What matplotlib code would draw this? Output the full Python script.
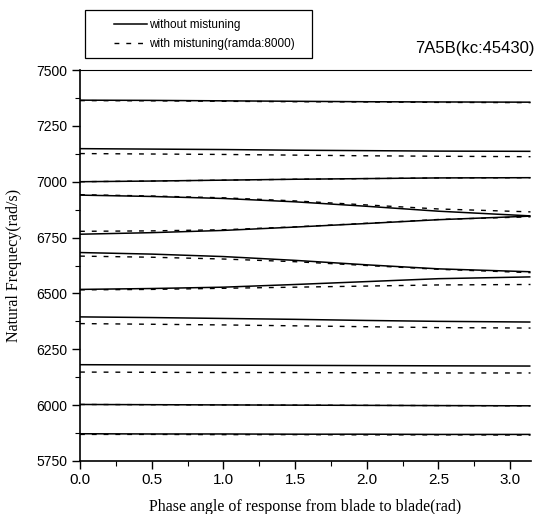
import numpy as np
import matplotlib
matplotlib.use("Agg")
import matplotlib.pyplot as plt
from matplotlib.lines import Line2D
from matplotlib.patches import Rectangle

# phase angle samples (rad)
phase = [0.0, 0.5, 1.0, 1.5, 2.0, 2.5, 3.1416]

# natural frequencies without mistuning (rad/s)
tuned_1 = [7365, 7364, 7362, 7360, 7358, 7357, 7356]
tuned_2 = [7148, 7146, 7144, 7141, 7139, 7137, 7136]
tuned_3 = [7000, 7003, 7007, 7011, 7014, 7017, 7018]
tuned_4 = [6940, 6934, 6925, 6910, 6890, 6868, 6847]
tuned_5 = [6765, 6772, 6782, 6797, 6813, 6830, 6846]
tuned_6 = [6683, 6676, 6665, 6648, 6628, 6610, 6597]
tuned_7 = [6518, 6522, 6528, 6540, 6553, 6566, 6574]
tuned_8 = [6395, 6392, 6388, 6384, 6379, 6375, 6372]
tuned_9 = [6181, 6180, 6179, 6178, 6177, 6176, 6175]
tuned_10 = [6003, 6002, 6001, 6000, 5999, 5998, 5997]
tuned_11 = [5872, 5871, 5871, 5870, 5870, 5869, 5869]

# natural frequencies with mistuning (ramda: 8000)
mist_1 = [7363, 7362, 7360, 7358, 7357, 7355, 7354]
mist_2 = [7126, 7124, 7122, 7119, 7116, 7114, 7112]
mist_3 = [7000, 7003, 7007, 7011, 7014, 7017, 7018]
mist_4 = [6942, 6936, 6928, 6914, 6896, 6878, 6865]
mist_5 = [6778, 6780, 6785, 6798, 6814, 6831, 6843]
mist_6 = [6667, 6662, 6654, 6642, 6625, 6608, 6593]
mist_7 = [6516, 6518, 6523, 6528, 6533, 6538, 6540]
mist_8 = [6365, 6362, 6359, 6355, 6351, 6347, 6345]
mist_9 = [6148, 6147, 6146, 6146, 6145, 6144, 6144]
mist_10 = [6003, 6002, 6001, 6000, 5999, 5998, 5997]
mist_11 = [5869, 5869, 5868, 5868, 5867, 5867, 5866]

tuned = [tuned_1, tuned_2, tuned_3, tuned_4, tuned_5, tuned_6, tuned_7,
         tuned_8, tuned_9, tuned_10, tuned_11]
mistuned = [mist_1, mist_2, mist_3, mist_4, mist_5, mist_6, mist_7,
            mist_8, mist_9, mist_10, mist_11]

x_ticks = [0.0, 0.5, 1.0, 1.5, 2.0, 2.5, 3.0]
y_ticks = [5750, 6000, 6250, 6500, 6750, 7000, 7250, 7500]

legend_labels = ["without mistuning", "with mistuning(ramda:8000)"]
title_text = "7A5B(kc:45430)"

W, H = 537, 514
fig = plt.figure(figsize=(W / 100, H / 100), dpi=100)
ax = fig.add_axes([80 / W, 1 - 461 / H, (530.5 - 80) / W, (461 - 70) / H])

for ys in tuned:
    ax.plot(phase, ys, color="black", lw=1.1, solid_capstyle="butt")
for ys in mistuned:
    ax.plot(phase, ys, color="black", lw=1.0, dashes=(3.5, 5))

ax.set_xlim(0, 3.1416)
ax.set_ylim(5750, 7500)
ax.set_xticks(x_ticks)
ax.set_xticklabels([f"{v:.1f}" for v in x_ticks])
ax.set_yticks(y_ticks)
ax.set_yticklabels([str(v) for v in y_ticks])
ax.set_xticks(np.arange(0.25, 3.15, 0.5), minor=True)
ax.set_yticks(np.arange(5875, 7500, 250), minor=True)

tick_font = "Liberation Sans"
for lab in ax.get_xticklabels():
    lab.set_fontfamily(tick_font)
    lab.set_fontsize(11)
for lab in ax.get_yticklabels():
    lab.set_fontfamily(tick_font)
    lab.set_fontsize(10)

ax.tick_params(which="major", direction="out", length=6, width=1.0, pad=3)
ax.tick_params(which="minor", direction="out", length=3.5, width=0.8)
ax.spines["right"].set_visible(False)
ax.spines["top"].set_linewidth(0.8)
ax.spines["left"].set_linewidth(1.2)
ax.spines["bottom"].set_linewidth(1.2)

ax.set_xlabel("Phase angle of response from blade to blade(rad)",
              family="Liberation Serif", fontsize=11.5, labelpad=8)
ax.set_ylabel("Natural Frequecy(rad/s)",
              family="Liberation Serif", fontsize=11.5, labelpad=10)

fig.text(535 / W, 1 - 48 / H, title_text, ha="right", va="center",
         family=tick_font, fontsize=12)

# legend frame
fig.patches.append(Rectangle((85 / W, 1 - 58 / H), (312 - 85) / W, 48 / H,
                             transform=fig.transFigure, fill=False,
                             edgecolor="black", lw=0.9))

handles = [Line2D([], [], color="black", lw=1.1),
           Line2D([], [], color="black", lw=1.0, dashes=(3.5, 5))]
leg = fig.legend(handles, legend_labels, loc="upper left",
                 bbox_to_anchor=(114 / W, 1 - 19 / H),
                 prop={"family": tick_font, "size": 8.5},
                 frameon=False, handlelength=2.8, handletextpad=0.2,
                 borderpad=0.0, labelspacing=0.6, borderaxespad=0)

fig.savefig("out.png", dpi=100)
